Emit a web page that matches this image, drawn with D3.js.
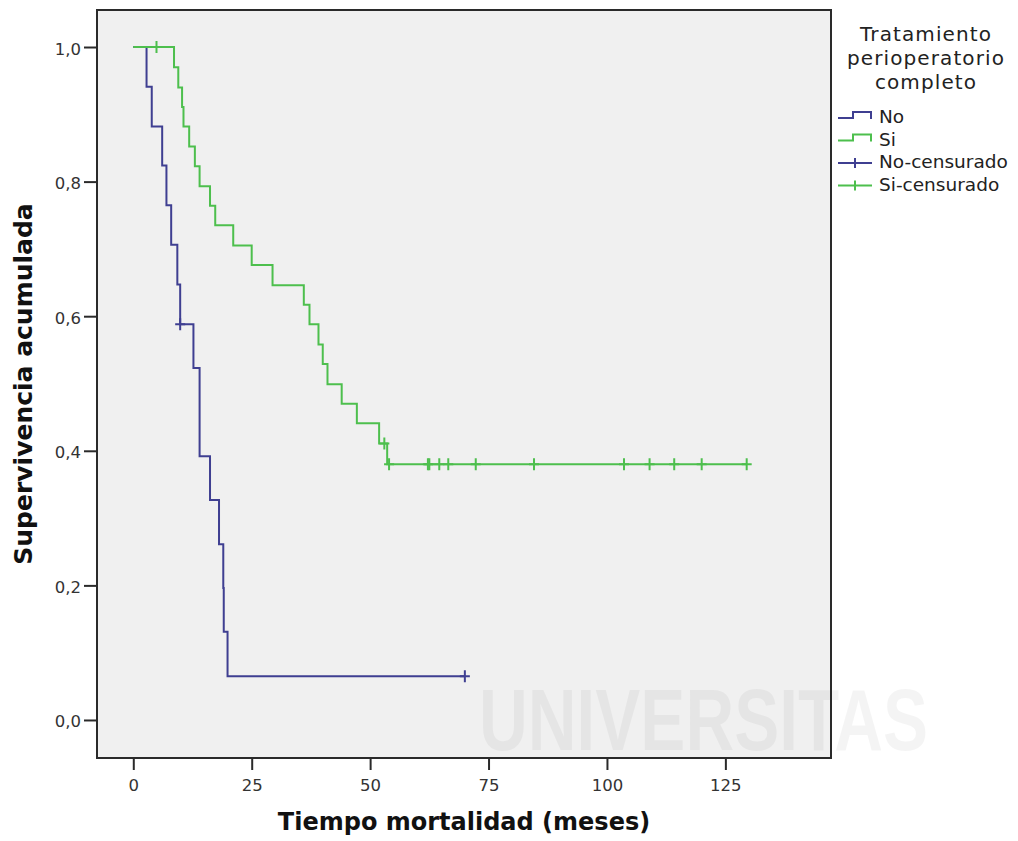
<!DOCTYPE html>
<html>
<head>
<meta charset="utf-8">
<script src="https://cdn.jsdelivr.net/npm/d3@7"></script>
<style>
  html, body { margin: 0; padding: 0; background: #fff; }
  svg { display: block; }
</style>
</head>
<body>
<svg id="chart" width="1018" height="841"></svg>
<script>
// Kaplan-Meier steps: time (months) at which survival changes, and survival after the step.
// The last entry of each series is the end of follow-up (last censored case).
const noTimes = [0, 2.8, 3.9, 6.1, 7.0, 8.0, 9.3, 9.9, 12.7, 14.0, 16.2, 18.1, 19.0, 19.1, 19.9, 70.0];
const noSurv  = [1.0, 0.941, 0.882, 0.824, 0.765, 0.706, 0.647, 0.588, 0.523, 0.392, 0.327, 0.261, 0.196, 0.131, 0.065, 0.065];
const noCensTimes = [9.9, 70.0];
const noCensSurv  = [0.588, 0.065];

const siTimes = [0, 8.6, 9.5, 10.3, 10.6, 11.8, 13.0, 14.0, 16.2, 17.3, 21.1, 25.0, 29.4, 36.0, 37.2, 39.1, 40.0, 41.0, 44.0, 47.2, 51.9, 53.6, 129.5];
const siSurv  = [1.0, 0.970, 0.940, 0.911, 0.882, 0.852, 0.823, 0.793, 0.764, 0.735, 0.705, 0.676, 0.646, 0.617, 0.588, 0.558, 0.529, 0.499, 0.470, 0.441, 0.411, 0.380, 0.380];
const siCensTimes = [4.9, 53.0, 54.0, 62.2, 62.5, 64.6, 66.5, 72.3, 84.6, 103.6, 109.0, 114.2, 120.0, 129.5];
const siCensSurv  = [1.0, 0.411, 0.380, 0.380, 0.380, 0.380, 0.380, 0.380, 0.380, 0.380, 0.380, 0.380, 0.380, 0.380];

const xTicks = [0, 25, 50, 75, 100, 125];
const yTicks = [0, 0.2, 0.4, 0.6, 0.8, 1.0];

const legendTitle = ["Tratamiento", "perioperatorio", "completo"];
const legendLabels = ["No", "Si", "No-censurado", "Si-censurado"];

const colNo = "#3f3f91";
const colSi = "#4dbf4d";

const svg = d3.select("#chart");
const W = 1018, H = 841;
const plot = { left: 97, right: 831, top: 10, bottom: 758 };

const x = d3.scaleLinear().domain([-7.66, 147.3]).range([plot.left, plot.right]);
const y = d3.scaleLinear().domain([-0.0565, 1.055]).range([plot.bottom, plot.top]);

svg.append("rect").attr("width", W).attr("height", H).attr("fill", "#fff");

// plot area
svg.append("rect")
  .attr("x", plot.left).attr("y", plot.top)
  .attr("width", plot.right - plot.left).attr("height", plot.bottom - plot.top)
  .attr("fill", "#f0f0f0");

// faint watermark
svg.append("text")
  .attr("x", 479).attr("y", 750)
  .attr("textLength", 449).attr("lengthAdjust", "spacingAndGlyphs")
  .attr("font-family", "Liberation Sans Narrow, Liberation Sans, sans-serif")
  .attr("font-weight", "bold").attr("font-size", 88)
  .attr("fill", "#000").attr("fill-opacity", 0.045)
  .attr("pointer-events", "none")
  .text("UNIVERSITAS");

// frame
svg.append("rect")
  .attr("x", plot.left).attr("y", plot.top)
  .attr("width", plot.right - plot.left).attr("height", plot.bottom - plot.top)
  .attr("fill", "none").attr("stroke", "#2a2a2a").attr("stroke-width", 2);

// axes
const fmtY = v => d3.format(".1f")(v).replace(".", ",");
const yAxis = svg.append("g")
  .attr("transform", `translate(${plot.left},0)`)
  .call(d3.axisLeft(y).tickValues(yTicks).tickSize(13).tickSizeOuter(0).tickFormat(fmtY));
const xAxis = svg.append("g")
  .attr("transform", `translate(0,${plot.bottom})`)
  .call(d3.axisBottom(x).tickValues(xTicks).tickSize(12).tickSizeOuter(0).tickFormat(d3.format("d")));

[yAxis, xAxis].forEach(g => {
  g.select(".domain").remove();
  g.selectAll(".tick line").attr("stroke", "#2a2a2a").attr("stroke-width", 2);
  g.selectAll(".tick text")
    .attr("font-family", "DejaVu Sans, sans-serif")
    .attr("font-size", 16.5)
    .attr("fill", "#333");
});
yAxis.selectAll(".tick text").attr("x", -16).attr("dy", null).attr("y", 7);
xAxis.selectAll(".tick text").attr("dy", null).attr("y", 33);

// axis titles
svg.append("text")
  .attr("x", 464).attr("y", 830)
  .attr("text-anchor", "middle")
  .attr("font-family", "DejaVu Sans, sans-serif")
  .attr("font-weight", "bold").attr("font-size", 24)
  .attr("fill", "#111")
  .text("Tiempo mortalidad (meses)");
svg.append("text")
  .attr("transform", "translate(32,384) rotate(-90)")
  .attr("text-anchor", "middle")
  .attr("font-family", "DejaVu Sans, sans-serif")
  .attr("font-weight", "bold").attr("font-size", 25)
  .attr("fill", "#111")
  .text("Supervivencia acumulada");

// survival curves
const step = d3.line()
  .x(d => x(d[0]))
  .y(d => y(d[1]))
  .curve(d3.curveStepAfter);

const curves = [
  { t: noTimes, s: noSurv, ct: noCensTimes, cs: noCensSurv, color: colNo },
  { t: siTimes, s: siSurv, ct: siCensTimes, cs: siCensSurv, color: colSi }
];

curves.forEach(c => {
  const pts = c.t.map((t, i) => [t, c.s[i]]);
  svg.append("path")
    .attr("d", step(pts))
    .attr("fill", "none")
    .attr("stroke", c.color)
    .attr("stroke-width", 2);
  const marks = svg.append("g");
  c.ct.forEach((t, i) => {
    const cx = x(t), cy = y(c.cs[i]);
    marks.append("path")
      .attr("d", `M${cx - 5},${cy}H${cx + 5}M${cx},${cy - 6}V${cy + 6}`)
      .attr("stroke", c.color)
      .attr("stroke-width", 2)
      .attr("fill", "none");
  });
});

// legend
const lg = svg.append("g");
const titleBase = [41, 65, 89];
legendTitle.forEach((t, i) => {
  lg.append("text")
    .attr("x", 926).attr("y", titleBase[i])
    .attr("text-anchor", "middle")
    .attr("font-family", "DejaVu Sans, sans-serif")
    .attr("font-size", 20)
    .attr("letter-spacing", 1.1)
    .attr("fill", "#222")
    .text(t);
});
const legendColors = [colNo, colSi, colNo, colSi];
legendLabels.forEach((lab, i) => {
  const by = 123 + i * 22.5;
  const col = legendColors[i];
  if (i < 2) {
    lg.append("path")
      .attr("d", `M838,${by - 5}H853V${by - 11}H871V${by - 4}`)
      .attr("fill", "none").attr("stroke", col).attr("stroke-width", 2);
  } else {
    lg.append("path")
      .attr("d", `M838,${by - 5}H872M855,${by - 10}V${by}`)
      .attr("fill", "none").attr("stroke", col).attr("stroke-width", 2);
  }
  lg.append("text")
    .attr("x", 879).attr("y", by)
    .attr("font-family", "DejaVu Sans, sans-serif")
    .attr("font-size", 18.5)
    .attr("fill", "#222")
    .text(lab);
});
</script>
</body>
</html>
